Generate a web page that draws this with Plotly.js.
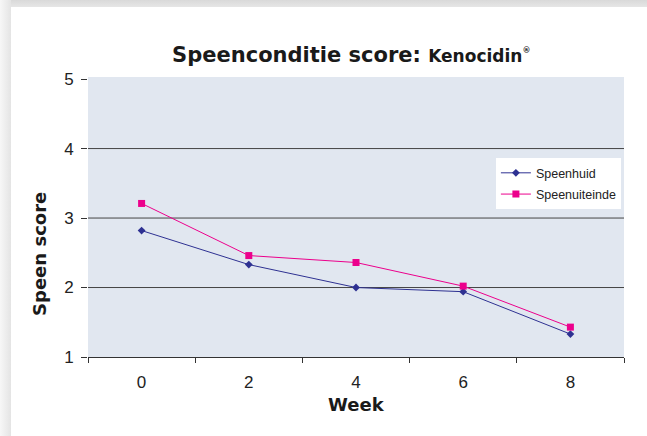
<!DOCTYPE html>
<html>
<head>
<meta charset="utf-8">
<script src="https://cdn.plot.ly/plotly-3.0.1.min.js"></script>
<style>
  html, body { margin: 0; padding: 0; width: 647px; height: 436px; overflow: hidden; background: #ffffff; }
  #top { position: absolute; left: 0; top: 0; width: 647px; height: 7px; background: linear-gradient(to bottom, #d9d9d9, #e6e6e6); }
  #left { position: absolute; left: 0; top: 0; width: 11px; height: 436px; background: linear-gradient(to right, #f7f7f7, #e4e4e4); }
  #chart { position: absolute; left: 11px; top: 7px; width: 636px; height: 429px; background: #fff; }
</style>
</head>
<body>
<div id="top"></div>
<div id="left"></div>
<div id="chart"></div>
<script>
const weeks = ['0', '2', '4', '6', '8'];
const speenhuid = [2.82, 2.33, 2.00, 1.94, 1.33];
const speenuiteinde = [3.21, 2.46, 2.36, 2.02, 1.43];
const yTicks = [1, 2, 3, 4, 5];
const gridVals = [2, 3, 4];

const traces = [
  {
    x: weeks, y: speenhuid, name: 'Speenhuid', type: 'scatter', mode: 'lines+markers',
    legendgroup: 'a',
    line: { color: '#2e3192', width: 1 },
    marker: { symbol: 'diamond', size: 6, color: '#2e3192' }
  },
  {
    x: weeks, y: speenuiteinde, name: 'Speenuiteinde', type: 'scatter', mode: 'lines+markers',
    legendgroup: 'b',
    line: { color: '#ec008c', width: 1 },
    marker: { symbol: 'square', size: 7, color: '#ec008c' }
  }
];

const titleFont = 'DejaVu Sans, Verdana, sans-serif';
const tickFontFam = 'Liberation Sans, Arial, sans-serif';

const layout = {
  width: 636, height: 429,
  margin: { l: 77, r: 23, t: 70, b: 79, pad: 0 },
  paper_bgcolor: '#ffffff',
  plot_bgcolor: '#e1e7f0',
  showlegend: true,
  title: {
    text: "Speenconditie score: <span style='font-size:17px'>Kenocidin</span><sup><span style='font-size:8px'>®</span></sup>",
    font: { family: titleFont, size: 21, color: '#1a1a1a', weight: 'bold' },
    x: 0.535, xanchor: 'center', xref: 'container',
    y: 0.89, yanchor: 'middle', yref: 'container'
  },
  xaxis: {
    type: 'category',
    range: [-0.5, 4.5],
    tickson: 'boundaries',
    ticks: 'outside', ticklen: 5, tickcolor: '#333', tickwidth: 1,
    ticklabelstandoff: 10,
    showline: true, linecolor: '#333', linewidth: 1,
    showgrid: false, zeroline: false,
    tickfont: { family: tickFontFam, size: 17, color: '#222' },
    fixedrange: true
  },
  yaxis: {
    range: [1, 5.03],
    tickvals: yTicks,
    ticktext: yTicks.map(String),
    ticks: 'outside', ticklen: 6, tickcolor: '#333', tickwidth: 1,
    ticklabelstandoff: 4,
    showline: false,
    showgrid: false,
    zeroline: false,
    tickfont: { family: tickFontFam, size: 17, color: '#222' },
    fixedrange: true
  },
  shapes: gridVals.map(v => ({
    type: 'line', xref: 'paper', yref: 'y', x0: 0, x1: 1, y0: v, y1: v,
    line: { color: '#454545', width: 1 }, layer: 'below'
  })),
  legend: {
    x: 0.761, y: 0.71, xanchor: 'left', yanchor: 'top',
    bgcolor: '#ffffff', borderwidth: 0,
    font: { family: tickFontFam, size: 12.5, color: '#222' },
    tracegroupgap: 2
  },
  annotations: [
    {
      text: 'Week', xref: 'paper', yref: 'paper', x: 0.5, y: -0.171,
      xanchor: 'center', yanchor: 'middle', showarrow: false,
      font: { family: titleFont, size: 18, color: '#1a1a1a', weight: 'bold' }
    },
    {
      text: 'Speen score', xref: 'paper', yref: 'paper', x: -0.0896, y: 0.368,
      xanchor: 'center', yanchor: 'middle', textangle: -90, showarrow: false,
      font: { family: titleFont, size: 18, color: '#1a1a1a', weight: 'bold' }
    }
  ]
};

Plotly.newPlot('chart', traces, layout, { displayModeBar: false, staticPlot: true });
</script>
</body>
</html>
